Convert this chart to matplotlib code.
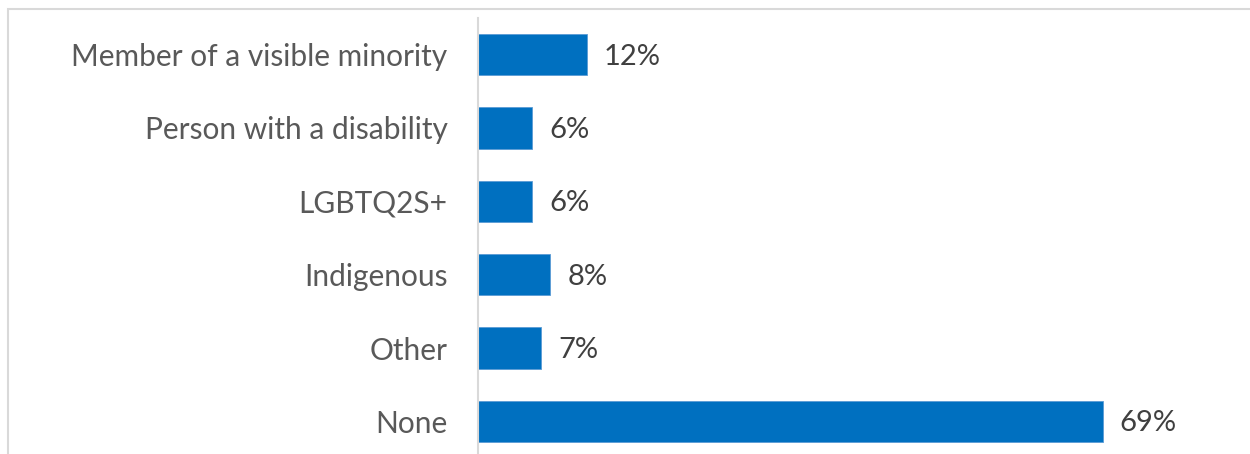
import matplotlib
matplotlib.use("Agg")
import matplotlib.pyplot as plt
from matplotlib.patches import Rectangle

categories = [
    "Member of a visible minority",
    "Person with a disability",
    "LGBTQ2S+",
    "Indigenous",
    "Other",
    "None",
]
values = [12, 6, 6, 8, 7, 69]
value_labels = ["12%", "6%", "6%", "8%", "7%", "69%"]

W, H, DPI = 1250, 454, 100
fig = plt.figure(figsize=(W / DPI, H / DPI), dpi=DPI)
fig.patch.set_facecolor("white")

plt.rcParams["font.family"] = ["Lato", "DejaVu Sans"]

# outer chart frame (extends past the right and bottom edges)
fig.add_artist(Rectangle((7.5 / W, -0.1), 1.2, (H - 8.5) / H + 0.1,
                         transform=fig.transFigure, fill=False,
                         edgecolor="#d9d9d9", linewidth=1.5))

left_px, top_px, bottom_px = 478, 18, 458
px_per_unit = 9.06
xmax = 80
ax = fig.add_axes([left_px / W, (H - bottom_px) / H,
                   xmax * px_per_unit / W, (bottom_px - top_px) / H])

y = list(range(len(categories)))
ax.barh(y, values, height=0.56, color="#0070C0",
        edgecolor="#5b9bd5", linewidth=0.6)

for yi, v, lab in zip(y, values, value_labels):
    ax.annotate(lab, (v, yi), xytext=(12, -1.5), textcoords="offset points",
                va="center", ha="left", fontsize=21, color="#404040")

ax.set_ylim(len(categories) - 0.5, -0.5)
ax.set_xlim(0, xmax)
ax.set_yticks(y)
ax.set_yticklabels(categories, fontsize=21.5, color="#595959")
ax.tick_params(axis="y", length=0, pad=22)
ax.set_xticks([])
for s in ["top", "right", "bottom"]:
    ax.spines[s].set_visible(False)
ax.spines["left"].set_color("#d9d9d9")
ax.spines["left"].set_linewidth(1.5)
ax.patch.set_alpha(0)

fig.savefig("out.png", dpi=DPI)
